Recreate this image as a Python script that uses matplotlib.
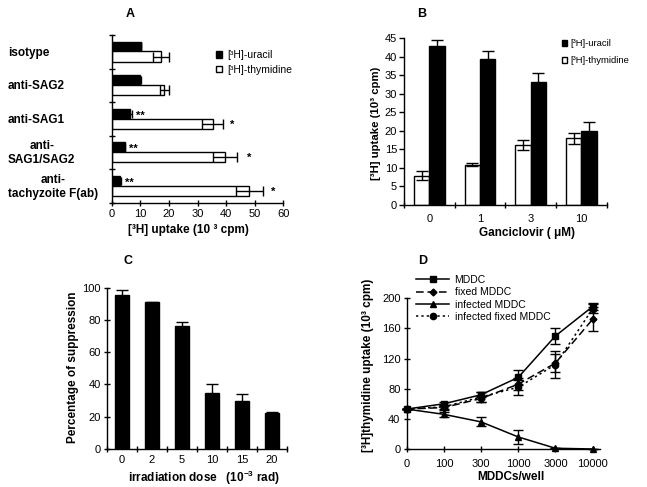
import matplotlib

matplotlib.use("Agg")
import matplotlib.pyplot as plt  # noqa: E402
import numpy as np  # noqa: E402
from matplotlib.lines import Line2D  # noqa: E402
from matplotlib.patches import Patch  # noqa: E402

plt.rcParams["font.family"] = ["Liberation Sans", "DejaVu Sans"]
plt.rcParams["font.size"] = 8
plt.rcParams["mathtext.fontset"] = "custom"
plt.rcParams["mathtext.rm"] = "Liberation Sans:bold"
plt.rcParams["mathtext.it"] = "Liberation Sans:bold"
plt.rcParams["axes.linewidth"] = 1.0

# --- panel A: antibody blocking (horizontal bars)
a_groups = ["isotype", "anti-SAG2", "anti-SAG1", "anti-\nSAG1/SAG2", "anti-\ntachyzoite F(ab)"]
a_uracil = [10.1, 10.0, 6.4, 4.6, 2.9]
a_uracil_err = [0.0, 0.3, 0.8, 0.2, 0.5]
a_thym = [17.3, 18.4, 35.3, 39.6, 48.1]
a_thym_err = [2.7, 1.6, 3.6, 4.1, 4.8]
a_double_star = [False, False, True, True, True]
a_single_star_x = [None, None, 42.2, 48.0, 56.5]

# --- panel B: ganciclovir
b_doses = ["0", "1", "3", "10"]
b_thym = [7.9, 10.9, 16.2, 18.0]
b_thym_err = [1.2, 0.5, 1.4, 1.4]
b_uracil = [43.0, 39.5, 33.2, 20.0]
b_uracil_err = [1.6, 2.2, 2.3, 2.3]

# --- panel C: irradiation
c_doses = ["0", "2", "5", "10", "15", "20"]
c_supp = [95.5, 91.0, 76.0, 34.5, 29.5, 22.5]
c_supp_err = [3.0, 0.3, 2.8, 5.5, 4.5, 0.5]

# --- panel D: MDDC titration
d_cells = ["0", "100", "300", "1000", "3000", "10000"]
d_mddc = [53, 60, 72, 95, 150, 189]
d_mddc_err = [0, 3, 3, 10.5, 10, 5]
d_fixed = [53, 55, 67, 86, 114, 172]
d_fixed_err = [0, 3, 4, 8, 12, 16]
d_inf = [53, 46, 36, 16, 1, 0]
d_inf_err = [0, 3, 6, 9, 0, 0]
d_inf_fixed = [53, 56, 69, 82, 112, 186]
d_inf_fixed_err = [0, 3, 6, 10, 18, 6]

W, H = 647, 487
fig = plt.figure(figsize=(W / 100, H / 100), dpi=100)


def px_axes(left, top, right, bottom):
    return fig.add_axes([left / W, 1 - bottom / H, (right - left) / W, (bottom - top) / H])


def clean(ax):
    ax.spines["top"].set_visible(False)
    ax.spines["right"].set_visible(False)
    ax.tick_params(which="both", direction="inout", length=5, width=1, labelsize=8)


def put_xlabel(ax, text, x, y, size=8.5):
    ax.set_xlabel(text, fontweight="bold", fontsize=size)
    ax.xaxis.set_label_coords(x, y)
    ax.xaxis.label.set_va("center")


def put_ylabel(ax, text, x, y, size=8.5):
    ax.set_ylabel(text, fontweight="bold", fontsize=size)
    ax.yaxis.set_label_coords(x, y)
    ax.yaxis.label.set_va("center")


# ---------------- A
axA = px_axes(111.7, 35, 283.3, 203)
clean(axA)
ya = np.arange(len(a_groups))
axA.barh(ya + 0.34, a_uracil, height=0.29, color="black", edgecolor="black", lw=1)
axA.barh(ya + 0.64, a_thym, height=0.30, color="white", edgecolor="black", lw=1)
axA.errorbar(a_uracil, ya + 0.34, xerr=a_uracil_err, fmt="none", ecolor="black", elinewidth=1, capsize=3)
axA.errorbar(a_thym, ya + 0.64, xerr=a_thym_err, fmt="none", ecolor="black", elinewidth=1, capsize=3.5)
for i in range(len(a_groups)):
    if a_double_star[i]:
        axA.text(a_uracil[i] + a_uracil_err[i] + 1.2, i + 0.40, "**", fontsize=8,
                 fontweight="bold", va="center", ha="left")
    if a_single_star_x[i] is not None:
        axA.text(a_single_star_x[i], i + 0.66, "*", fontsize=8, fontweight="bold",
                 va="center", ha="center")
    fig.text(8 / W, 1 - (35 + (i + 0.5) * 33.54 + 1) / H, a_groups[i], fontweight="bold",
             fontsize=8.5, ha="left", va="center", multialignment="center")
axA.set_ylim(5, 0)
axA.set_yticks(np.arange(6))
axA.set_yticklabels([])
axA.set_xlim(0, 60)
axA.set_xticks(np.arange(0, 61, 10))
axA.tick_params(axis="x", pad=1.5)
put_xlabel(axA, "[³H] uptake (10 ³ cpm)", 0.45, -0.161)
axA.legend(handles=[Patch(facecolor="black", edgecolor="black", label="[³H]-uracil"),
                    Patch(facecolor="white", edgecolor="black", label="[³H]-thymidine")],
           loc="upper left", bbox_to_anchor=(216 / W, 1 - 50 / H), bbox_transform=fig.transFigure,
           frameon=False, handlelength=0.6, handleheight=0.6, handletextpad=0.5,
           labelspacing=0.45, fontsize=7.5, borderaxespad=0, borderpad=0)

# ---------------- B
axB = px_axes(404, 38.3, 606.7, 205)
clean(axB)
xb = np.arange(len(b_doses))
axB.bar(xb - 0.15, b_thym, width=0.3, color="white", edgecolor="black", lw=1)
axB.bar(xb + 0.15, b_uracil, width=0.3, color="black", edgecolor="black", lw=1)
axB.errorbar(xb - 0.15, b_thym, yerr=b_thym_err, fmt="none", ecolor="black", elinewidth=1, capsize=4.5)
axB.errorbar(xb + 0.15, b_uracil, yerr=b_uracil_err, fmt="none", ecolor="black", elinewidth=1, capsize=4.5)
axB.set_xlim(-0.5, len(b_doses) - 0.5)
axB.set_ylim(0, 45)
axB.set_yticks(np.arange(0, 46, 5))
axB.set_xticks(xb)
axB.set_xticklabels(b_doses)
axB.set_xticks(np.arange(-0.5, len(b_doses), 1), minor=True)
axB.tick_params(axis="x", which="major", length=0, pad=6.5)
axB.tick_params(axis="y", direction="out", length=3.5, pad=1.5)
put_xlabel(axB, "Ganciclovir ( μM)", 0.605, -0.168)
put_ylabel(axB, "[³H] uptake (10³ cpm)", -0.14, 0.489, size=8.2)
axB.legend(handles=[Patch(facecolor="black", edgecolor="black", label="[³H]-uracil"),
                    Patch(facecolor="white", edgecolor="black", label="[³H]-thymidine")],
           loc="upper left", bbox_to_anchor=(562 / W, 1 - 39 / H), bbox_transform=fig.transFigure,
           frameon=False, handlelength=0.55, handleheight=0.55, handletextpad=0.3,
           labelspacing=0.85, fontsize=6.8, borderaxespad=0, borderpad=0)

# ---------------- C
axC = px_axes(107, 287.7, 287, 449)
clean(axC)
xc = np.arange(len(c_doses))
axC.bar(xc, c_supp, width=0.47, color="black", edgecolor="black", lw=1)
axC.errorbar(xc, c_supp, yerr=c_supp_err, fmt="none", ecolor="black", elinewidth=1, capsize=4)
axC.set_xlim(-0.5, len(c_doses) - 0.5)
axC.set_ylim(0, 100)
axC.set_yticks(np.arange(0, 101, 20))
axC.set_xticks(xc)
axC.set_xticklabels(c_doses)
axC.set_xticks(np.arange(-0.5, len(c_doses), 1), minor=True)
axC.tick_params(axis="x", which="major", length=0, pad=4)
axC.tick_params(axis="y", pad=2)
put_xlabel(axC, "irradiation dose   (10$^{-3}$ rad)", 0.54, -0.18)
put_ylabel(axC, "Percentage of suppression", -0.19, 0.505)

# ---------------- D
axD = px_axes(406.7, 298.3, 600, 449)
clean(axD)
xd = np.arange(len(d_cells))
series = [
    (d_mddc, d_mddc_err, "MDDC", "-", "s", 5),
    (d_fixed, d_fixed_err, "fixed MDDC", (0, (5, 2.5)), "D", 3.5),
    (d_inf, d_inf_err, "infected MDDC", "-", "^", 5),
    (d_inf_fixed, d_inf_fixed_err, "infected fixed MDDC", (0, (1.5, 2)), "o", 4.5),
]
handles = []
for vals, errs, label, ls, mk, ms in series:
    axD.errorbar(xd, vals, yerr=errs, color="black", ls=ls, lw=1.1, marker=mk, ms=ms,
                 capsize=3.5, elinewidth=1, clip_on=False)
    handles.append(Line2D([], [], color="black", ls=ls, lw=1.1, marker=mk, ms=ms, label=label))
axD.set_xlim(0, 5.2)
axD.set_ylim(0, 200)
axD.set_yticks(np.arange(0, 201, 40))
axD.set_xticks(xd)
axD.set_xticklabels(d_cells)
axD.tick_params(axis="x", pad=5)
axD.tick_params(axis="y", pad=2)
put_xlabel(axD, "MDDCs/well", 0.537, -0.186)
put_ylabel(axD, "[³H]thymidine uptake (10³ cpm)", -0.2, 0.557)
axD.legend(handles=handles, loc="upper left", bbox_to_anchor=(416 / W, 1 - 275 / H),
           bbox_transform=fig.transFigure, frameon=False, handlelength=3.2,
           handletextpad=0.5, labelspacing=0.22, fontsize=7.5, borderaxespad=0, borderpad=0)

# panel letters
for letter, x, y in [("A", 130, 14), ("B", 422, 14), ("C", 128, 261), ("D", 423, 261)]:
    fig.text(x / W, 1 - y / H, letter, fontweight="bold", fontsize=9, ha="center", va="center")

fig.savefig("out.png", dpi=100)
